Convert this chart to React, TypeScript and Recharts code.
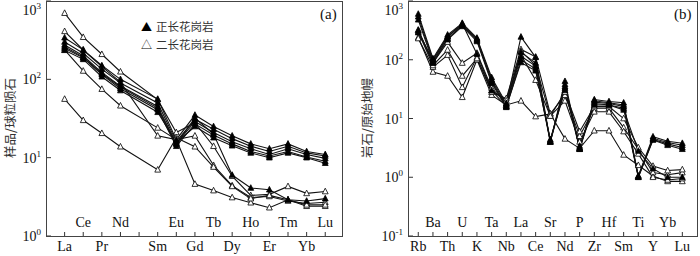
import React from 'react';
import { LineChart, Line, XAxis, YAxis } from 'recharts';

// ---------- Panel (a): chondrite-normalised REE ----------
const reeElements = ['La', 'Ce', 'Pr', 'Nd', 'Pm', 'Sm', 'Eu', 'Gd', 'Tb', 'Dy', 'Ho', 'Er', 'Tm', 'Yb', 'Lu'];
const reeTickLabels = ['La', 'Ce', 'Pr', 'Nd', '', 'Sm', 'Eu', 'Gd', 'Tb', 'Dy', 'Ho', 'Er', 'Tm', 'Yb', 'Lu'];
// 1 = label drawn in the upper row (inside the frame), 0 = lower row (below the axis)
const reeLabelUpper = [0, 1, 0, 1, 0, 0, 1, 0, 1, 0, 1, 0, 1, 0, 1];
const reeYTicks = [1, 10, 100, 1000];

// 正长花岗岩 (filled)
const reeSyeno1 = [340, 238, 150, 100, null, 56, 17, 35, 25, 19, 15, 13, 15, 12, 11];
const reeSyeno2 = [300, 215, 135, 90, null, 50, 16, 31, 23, 17.5, 14, 12, 14, 11.5, 10.5];
const reeSyeno3 = [275, 200, 122, 82, null, 45, 15, 29, 21, 16, 13, 11, 13, 11, 9.8];
const reeSyeno4 = [250, 188, 115, 76, null, 41, 14, 27, 19.5, 15, 12, 10.5, 12, 10.2, 9];
const reeSyeno5 = [235, 180, 108, 72, null, 38, 15.5, 25, 18, 14.2, 11.5, 10, 11.5, 10, 8.5];
const reeSyeno6 = [260, 192, 118, 80, null, 43, 15, 32, 20, 6, 4.1, 3.9, 2.9, 2.8, 3.0];
// 二长花岗岩 (open)
const reeMonzo1 = [700, 345, 209, 125, null, 55, 21, 28, 14, 5.8, 3.3, 3.4, 4.3, 3.5, 3.7];
const reeMonzo2 = [410, 237, 145, 92, null, 19, 17, 19, 8, 4.4, 3.1, 3.2, 2.8, 2.6, 2.7];
const reeMonzo3 = [237, 128, 75, 46, null, 24, 17, 4.6, 3.8, 3.1, 2.66, 2.3, 2.9, 2.4, 2.4];
const reeMonzo4 = [56, 30, 20.5, 13.8, null, 7.0, 18, 13.8, 7.6, 4.3, 3.0, 3.3, 2.9, 2.5, 2.5];

// ---------- Panel (b): primitive-mantle-normalised spider ----------
const traceElements = ['Rb', 'Ba', 'Th', 'U', 'K', 'Ta', 'Nb', 'La', 'Ce', 'Sr', 'Nd', 'P', 'Zr', 'Hf', 'Sm', 'Ti', 'Y', 'Yb', 'Lu'];
const traceLabelUpper = [0, 1, 0, 1, 0, 1, 0, 1, 0, 1, 0, 1, 0, 1, 0, 1, 0, 1, 0];
const traceYTicks = [0.1, 1, 10, 100, 1000];

const trSyeno1 = [600, 105, 265, 420, 235, 50, 18, 245, 110, 4.0, 43, 3.0, 21, 19.5, 18.5, 1.05, 4.9, 4.1, 3.8];
const trSyeno2 = [540, 98, 245, 400, 225, 46, 17, 135, 88, 4.0, 38, 3.1, 20, 18.5, 17, 1.0, 4.6, 3.9, 3.5];
const trSyeno3 = [480, 92, 230, 385, 215, 43, 16, 115, 78, 4.2, 35, 3.2, 19, 18, 16, 1.05, 4.4, 3.7, 3.2];
const trSyeno4 = [320, 88, 220, 370, 205, 40, 15.5, 100, 70, 4.0, 33, 3.0, 18, 17, 15, 1.0, 4.3, 3.5, 3.0];
const trSyeno5 = [290, 100, 250, 410, 125, 30, 16, 90, 65, 4.4, 30, 3.4, 17, 17, 14, 2.8, 1.4, 1.0, 1.0];
const trMonzo1 = [240, 62, 53, 23, 100, 25, 17, 20, 10.8, 12, 4.5, 3.1, 6.2, 6.2, 2.4, 1.6, 1.05, 0.85, 0.85];
const trMonzo2 = [230, 75, 120, 34, 110, 28, 22, 150, 112, 12, 25, 5, 15, 15, 7, 3.0, 1.2, 1.1, 1.2];
const trMonzo3 = [300, 80, 147, 53, 105, 30, 20, 120, 45, 11, 20, 4, 13, 13, 6, 2.5, 1.0, 0.9, 0.95];
const trMonzo4 = [320, 88, 200, 88, 130, 33, 18, 140, 80, 11, 28, 6, 16, 16, 10, 3.2, 1.55, 1.3, 1.35];

const reeFilled = [reeSyeno1, reeSyeno2, reeSyeno3, reeSyeno4, reeSyeno5, reeSyeno6];
const reeOpen = [reeMonzo1, reeMonzo2, reeMonzo3, reeMonzo4];
const trFilled = [trSyeno1, trSyeno2, trSyeno3, trSyeno4, trSyeno5];
const trOpen = [trMonzo1, trMonzo2, trMonzo3, trMonzo4];

function buildRows(elements: string[], filled: (number | null)[][], open: (number | null)[][]) {
  return elements.map((el, i) => {
    const row: any = { x: i, el };
    filled.forEach((s, k) => { row['f' + k] = s[i]; });
    open.forEach((s, k) => { row['o' + k] = s[i]; });
    return row;
  });
}

const reeRows = buildRows(reeElements, reeFilled, reeOpen);
const trRows = buildRows(traceElements, trFilled, trOpen);

const SERIF = "'Liberation Serif', 'Times New Roman', serif";
const CJK = "'Noto Sans CJK SC', sans-serif";
const H = 256;
const PLOT_TOP = 1;
const AXIS_Y = 236;

const makeDot = (filled: boolean) => (props: any) => {
  const { cx, cy, value, index, dataKey } = props;
  if (cx == null || cy == null || value == null || Number.isNaN(cx) || Number.isNaN(cy)) {
    return <g key={`d-${dataKey}-${index}`} />;
  }
  const s = 2.9;
  return (
    <polygon
      key={`d-${dataKey}-${index}`}
      points={`${cx},${cy - s - 0.4} ${cx - s},${cy + s * 0.8} ${cx + s},${cy + s * 0.8}`}
      fill={filled ? '#000' : '#fff'}
      stroke="#000"
      strokeWidth={0.8}
    />
  );
};
const filledDot = makeDot(true);
const openDot = makeDot(false);

const makeXTick = (labels: string[], upperRow: number[]) => (props: any) => {
  const { x, payload } = props;
  const i = payload.value as number;
  const label = labels[i];
  const upper = upperRow[i] === 1;
  return (
    <g>
      <line x1={x} x2={x} y1={AXIS_Y} y2={AXIS_Y - 4} stroke="#333" strokeWidth={1} />
      <text x={x} y={upper ? 227 : 251} textAnchor="middle" fontFamily={SERIF} fontSize={14} fill="#111">
        {label}
      </text>
    </g>
  );
};

const makeYTick = (plotLeft: number) => (props: any) => {
  const { y, payload } = props;
  const v = payload.value as number;
  const exp = Math.round(Math.log10(v));
  const ly = Math.max(y, 10);
  return (
    <g>
      <line x1={plotLeft} x2={plotLeft + 5} y1={y} y2={y} stroke="#333" strokeWidth={1} />
      <text x={plotLeft - 5} y={ly + 5} textAnchor="end" fontFamily={SERIF} fontSize={14} fill="#111">
        10
        <tspan dy={-6} fontSize={9}>{String(exp)}</tspan>
      </text>
    </g>
  );
};

function renderLines(filledCount: number, openCount: number) {
  const out: any[] = [];
  for (let k = 0; k < openCount; k++) {
    out.push(
      <Line key={'o' + k} dataKey={'o' + k} type="linear" stroke="#111" strokeWidth={1.1}
        dot={openDot} activeDot={false} isAnimationActive={false} connectNulls />
    );
  }
  for (let k = 0; k < filledCount; k++) {
    out.push(
      <Line key={'f' + k} dataKey={'f' + k} type="linear" stroke="#111" strokeWidth={1.1}
        dot={filledDot} activeDot={false} isAnimationActive={false} connectNulls />
    );
  }
  return out;
}

const frameStyle = (left: number, right: number): React.CSSProperties => ({
  position: 'absolute', left, top: PLOT_TOP, width: right - left + 1, height: AXIS_Y - PLOT_TOP + 1,
  border: '1px solid #444', boxSizing: 'border-box', pointerEvents: 'none',
});

export default function App() {
  return (
    <div style={{ position: 'absolute', left: 0, top: 0, width: 700, height: H, background: '#fff', overflow: 'hidden' }}>
      {/* Panel (a) */}
      <div style={{ position: 'absolute', left: 0, top: 0 }}>
        <LineChart width={350} height={H} data={reeRows} margin={{ top: PLOT_TOP, right: 8, left: 6, bottom: 0 }}>
          <XAxis dataKey="x" type="number" domain={[-1, 14.9]} ticks={reeElements.map((_, i) => i)} interval={0}
            tick={makeXTick(reeTickLabels, reeLabelUpper)} tickLine={false} axisLine={false} height={20} allowDataOverflow />
          <YAxis type="number" scale="log" domain={[1, 1000]} ticks={reeYTicks} interval={0} width={40}
            tick={makeYTick(46)} tickLine={false} axisLine={false} allowDataOverflow />
          {renderLines(reeFilled.length, reeOpen.length)}
        </LineChart>
      </div>
      <div style={frameStyle(46, 342)} />

      {/* Panel (b) */}
      <div style={{ position: 'absolute', left: 350, top: 0 }}>
        <LineChart width={350} height={H} data={trRows} margin={{ top: PLOT_TOP, right: 3, left: 8, bottom: 0 }}>
          <XAxis dataKey="x" type="number" domain={[-0.7, 19]} ticks={traceElements.map((_, i) => i)} interval={0}
            tick={makeXTick(traceElements, traceLabelUpper)} tickLine={false} axisLine={false} height={20} allowDataOverflow />
          <YAxis type="number" scale="log" domain={[0.1, 1000]} ticks={traceYTicks} interval={0} width={50}
            tick={makeYTick(58)} tickLine={false} axisLine={false} allowDataOverflow />
          {renderLines(trFilled.length, trOpen.length)}
        </LineChart>
      </div>
      <div style={frameStyle(408, 697)} />

      {/* axis titles */}
      <div style={{ position: 'absolute', left: 9, top: 118, transform: 'translate(-50%, -50%) rotate(-90deg)',
        whiteSpace: 'nowrap', fontFamily: CJK, fontSize: 12.5, color: '#333' }}>样品/球粒陨石</div>
      <div style={{ position: 'absolute', left: 366, top: 118, transform: 'translate(-50%, -50%) rotate(-90deg)',
        whiteSpace: 'nowrap', fontFamily: CJK, fontSize: 12.5, color: '#333' }}>岩石/原始地幔</div>

      {/* legend */}
      <div style={{ position: 'absolute', left: 141, top: 17, fontFamily: CJK, fontSize: 11.5, color: '#333', lineHeight: '18px' }}>
        <div><span style={{ color: '#000', fontSize: 11, marginRight: 4 }}>▲</span>正长花岗岩</div>
        <div><span style={{ color: '#000', fontSize: 11, marginRight: 4 }}>△</span>二长花岗岩</div>
      </div>

      {/* panel letters */}
      <div style={{ position: 'absolute', left: 320, top: 6, fontFamily: SERIF, fontSize: 15, color: '#111' }}>(a)</div>
      <div style={{ position: 'absolute', left: 674, top: 6, fontFamily: SERIF, fontSize: 15, color: '#111' }}>(b)</div>
    </div>
  );
}
